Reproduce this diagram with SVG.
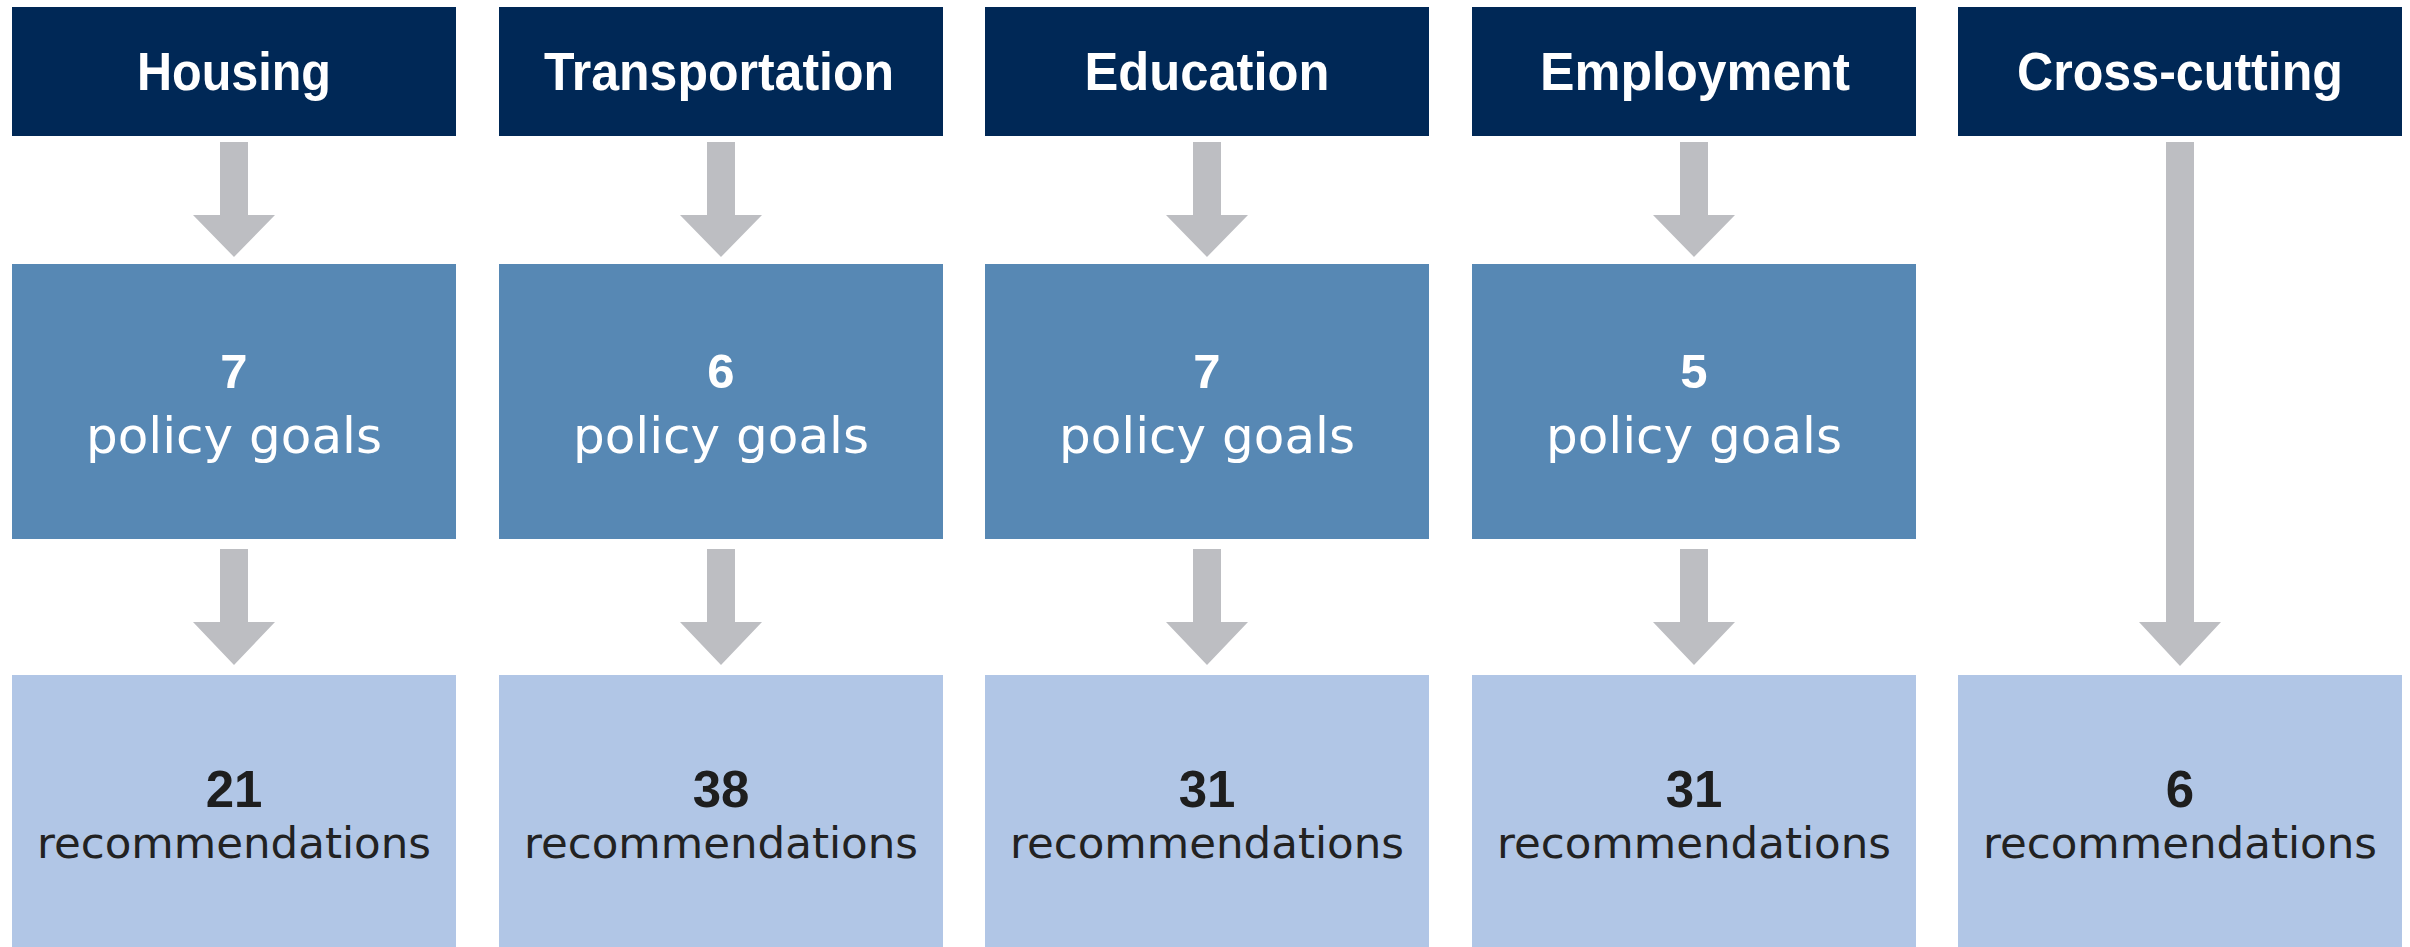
<svg xmlns="http://www.w3.org/2000/svg" width="2410" height="947" viewBox="0 0 2410 947">
<style>
.hdr{fill:#002856}
.pol{fill:#5788B4}
.rec{fill:#B1C6E6}
.arr{fill:#BDBEC2}
.ht{font-family:"Liberation Sans",Arial,sans-serif;font-weight:bold;font-size:54px;fill:#ffffff;text-anchor:middle}
.pn{font-family:"Liberation Sans",Arial,sans-serif;font-weight:bold;font-size:49px;fill:#ffffff;text-anchor:middle}
.pt{font-family:"DejaVu Sans",sans-serif;font-size:49px;fill:#ffffff;text-anchor:middle}
.rn{font-family:"Liberation Sans",Arial,sans-serif;font-weight:bold;font-size:51px;fill:#1e1e1e;text-anchor:middle}
.rt{font-family:"DejaVu Sans",sans-serif;font-size:42px;fill:#222222;text-anchor:middle}
</style>
<rect width="2410" height="947" fill="#ffffff"/>
<g id="connectors">
<polygon class="arr" points="220,142 248,142 248,215 275,215 234,257 193,215 220,215"/>
<polygon class="arr" points="220,549 248,549 248,622 275,622 234,665 193,622 220,622"/>
<polygon class="arr" points="707,142 735,142 735,215 762,215 721,257 680,215 707,215"/>
<polygon class="arr" points="707,549 735,549 735,622 762,622 721,665 680,622 707,622"/>
<polygon class="arr" points="1193,142 1221,142 1221,215 1248,215 1207,257 1166,215 1193,215"/>
<polygon class="arr" points="1193,549 1221,549 1221,622 1248,622 1207,665 1166,622 1193,622"/>
<polygon class="arr" points="1680,142 1708,142 1708,215 1735,215 1694,257 1653,215 1680,215"/>
<polygon class="arr" points="1680,549 1708,549 1708,622 1735,622 1694,665 1653,622 1680,622"/>
<polygon class="arr" points="2166,142 2194,142 2194,622 2221,622 2180,666 2139,622 2166,622"/>
</g>
<g id="housing-header"><rect class="hdr" x="12" y="7" width="444" height="129"/><text class="ht" x="234" y="90" textLength="194" lengthAdjust="spacingAndGlyphs">Housing</text></g>
<g id="transportation-header"><rect class="hdr" x="499" y="7" width="444" height="129"/><text class="ht" x="719" y="90" textLength="350" lengthAdjust="spacingAndGlyphs">Transportation</text></g>
<g id="education-header"><rect class="hdr" x="985" y="7" width="444" height="129"/><text class="ht" x="1207" y="90" textLength="245" lengthAdjust="spacingAndGlyphs">Education</text></g>
<g id="employment-header"><rect class="hdr" x="1472" y="7" width="444" height="129"/><text class="ht" x="1695" y="90" textLength="310" lengthAdjust="spacingAndGlyphs">Employment</text></g>
<g id="crosscutting-header"><rect class="hdr" x="1958" y="7" width="444" height="129"/><text class="ht" x="2180" y="90" textLength="326" lengthAdjust="spacingAndGlyphs">Cross-cutting</text></g>

<g id="housing-goals"><rect class="pol" x="12" y="264" width="444" height="275"/><text class="pn" x="234" y="388">7</text><text class="pt" x="234" y="453" textLength="296" lengthAdjust="spacingAndGlyphs">policy goals</text></g>
<g id="transportation-goals"><rect class="pol" x="499" y="264" width="444" height="275"/><text class="pn" x="721" y="388">6</text><text class="pt" x="721" y="453" textLength="296" lengthAdjust="spacingAndGlyphs">policy goals</text></g>
<g id="education-goals"><rect class="pol" x="985" y="264" width="444" height="275"/><text class="pn" x="1207" y="388">7</text><text class="pt" x="1207" y="453" textLength="296" lengthAdjust="spacingAndGlyphs">policy goals</text></g>
<g id="employment-goals"><rect class="pol" x="1472" y="264" width="444" height="275"/><text class="pn" x="1694" y="388">5</text><text class="pt" x="1694" y="453" textLength="296" lengthAdjust="spacingAndGlyphs">policy goals</text></g>

<g id="housing-recs"><rect class="rec" x="12" y="675" width="444" height="272"/><text class="rn" x="234" y="807">21</text><text class="rt" x="234" y="858" textLength="394" lengthAdjust="spacingAndGlyphs">recommendations</text></g>
<g id="transportation-recs"><rect class="rec" x="499" y="675" width="444" height="272"/><text class="rn" x="721" y="807">38</text><text class="rt" x="721" y="858" textLength="394" lengthAdjust="spacingAndGlyphs">recommendations</text></g>
<g id="education-recs"><rect class="rec" x="985" y="675" width="444" height="272"/><text class="rn" x="1207" y="807">31</text><text class="rt" x="1207" y="858" textLength="394" lengthAdjust="spacingAndGlyphs">recommendations</text></g>
<g id="employment-recs"><rect class="rec" x="1472" y="675" width="444" height="272"/><text class="rn" x="1694" y="807">31</text><text class="rt" x="1694" y="858" textLength="394" lengthAdjust="spacingAndGlyphs">recommendations</text></g>
<g id="crosscutting-recs"><rect class="rec" x="1958" y="675" width="444" height="272"/><text class="rn" x="2180" y="807">6</text><text class="rt" x="2180" y="858" textLength="394" lengthAdjust="spacingAndGlyphs">recommendations</text></g>
</svg>
